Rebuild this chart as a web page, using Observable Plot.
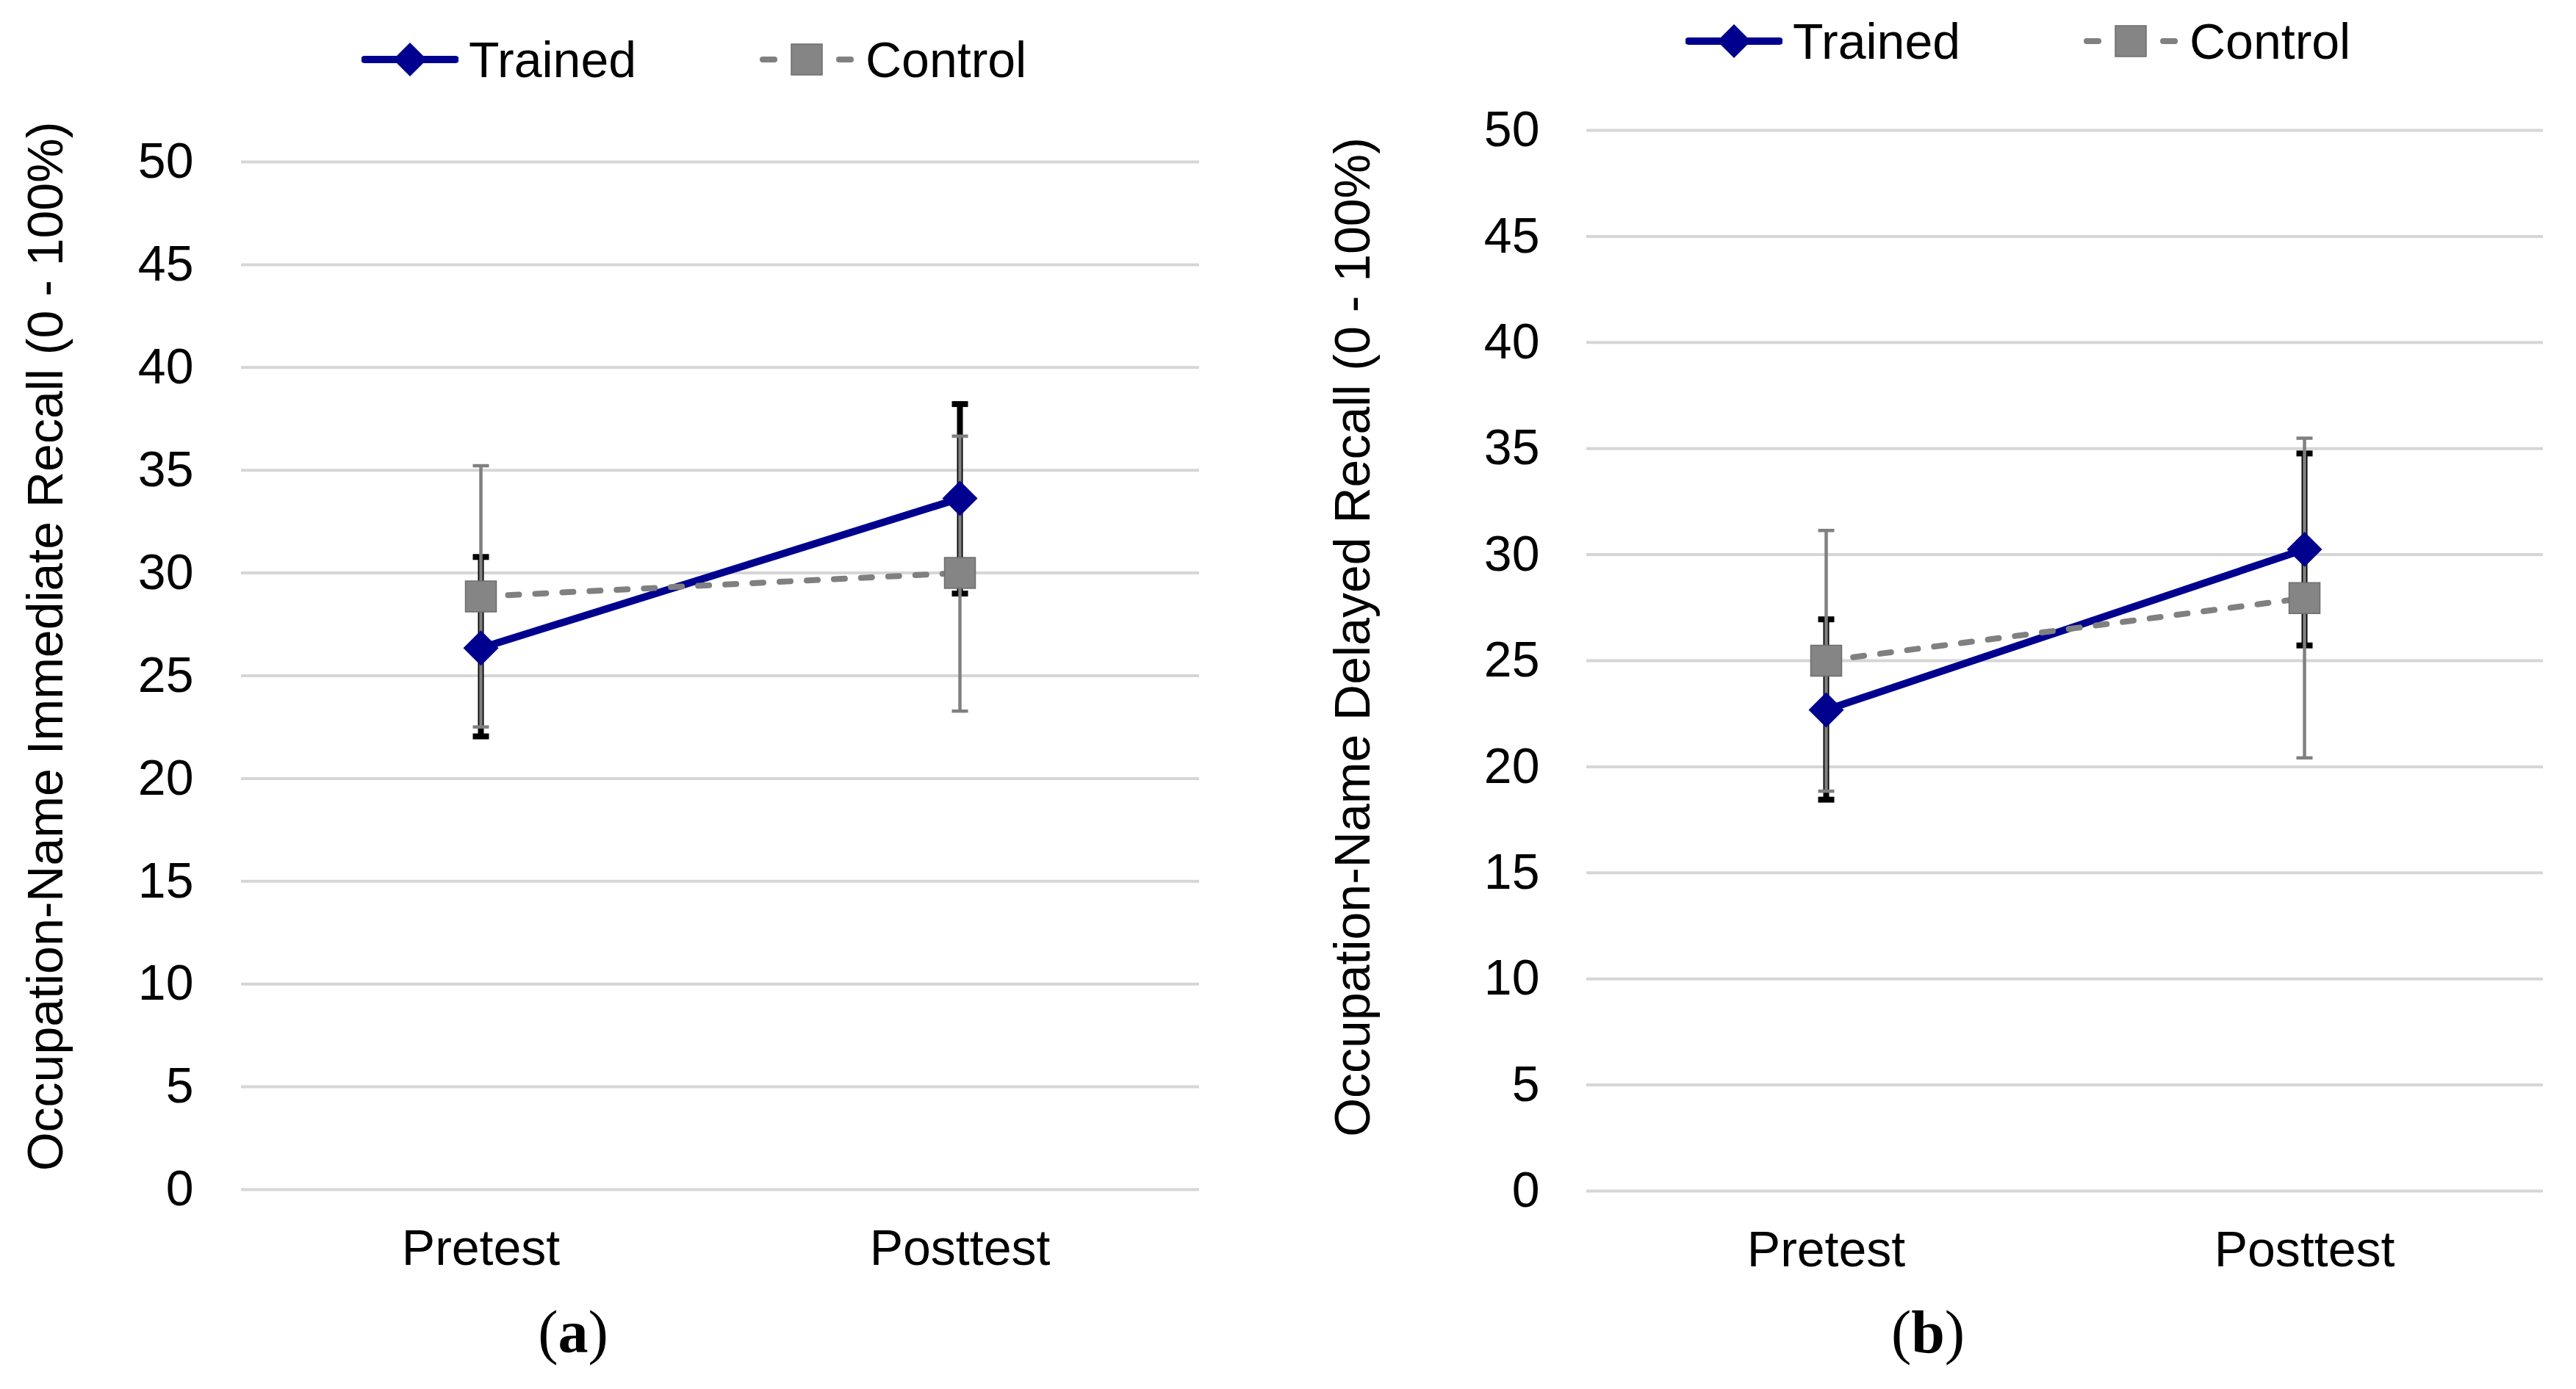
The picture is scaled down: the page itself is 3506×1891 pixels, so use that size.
<!DOCTYPE html>
<html><head><meta charset="utf-8">
<script src="https://cdn.jsdelivr.net/npm/d3@7"></script>
<script src="https://cdn.jsdelivr.net/npm/@observablehq/plot@0.6"></script>
<style>
html,body{margin:0;padding:0;background:#fff;}
#root{position:relative;width:3506px;height:1891px;background:#fff;font-family:"Liberation Sans",Arial,sans-serif;overflow:hidden;}
.panel{position:absolute;top:0;}
.leg{position:absolute;display:flex;align-items:center;height:68px;font-size:68px;line-height:68px;color:#000;white-space:nowrap;}
.leg svg{display:block;margin-right:14px;}
.cap{position:absolute;font-family:"Liberation Serif","Times New Roman",serif;font-size:82px;line-height:82px;color:#000;transform:translateX(-50%);white-space:nowrap;}
</style></head><body><div id="root"></div>
<script>
// ---- data ----
const phases = ["Pretest", "Posttest"];
const groups = ["Trained", "Control"];
const yTicks = [0, 5, 10, 15, 20, 25, 30, 35, 40, 45, 50];
// (a) immediate recall
const immTrainedMean = [26.35, 33.63];
const immTrainedLow = [22.05, 29.0];
const immTrainedHigh = [30.78, 38.22];
const immControlMean = [28.86, 30.0];
const immControlLow = [22.51, 23.28];
const immControlHigh = [35.22, 36.66];
// (b) delayed recall
const delTrainedMean = [22.68, 30.25];
const delTrainedLow = [18.45, 25.72];
const delTrainedHigh = [26.95, 34.77];
const delControlMean = [25.0, 27.95];
const delControlLow = [18.85, 20.42];
const delControlHigh = [31.14, 35.49];
const yTitles = ["Occupation-Name Immediate Recall (0 - 100%)", "Occupation-Name Delayed Recall (0 - 100%)"];
const panelLetters = ["a", "b"];

// ---- styling ----
const NAVY = "#00008f";
const GRAY = "#808080";
const FONT = '"Liberation Sans", Arial, sans-serif';

function rows(mean, lo, hi) {
  return phases.map((p, i) => ({phase: p, mean: mean[i], lo: lo[i], hi: hi[i]}));
}
const hline = {draw(ctx, size) { const w = Math.sqrt(size / Math.PI); ctx.moveTo(-w, 0); ctx.lineTo(w, 0); }};

function panel(cfg) {
  const T = rows(cfg.tMean, cfg.tLo, cfg.tHi);
  const C = rows(cfg.cMean, cfg.cLo, cfg.cHi);
  return Plot.plot({
    width: cfg.width, height: 1760,
    marginLeft: cfg.ml, marginRight: cfg.mr, marginTop: cfg.mt, marginBottom: cfg.mb,
    style: {fontFamily: FONT, fontSize: "68px", color: "#000", background: "transparent", overflow: "visible"},
    x: {type: "point", domain: phases, padding: 0.5, label: null},
    y: {domain: [0, 50], label: null},
    marks: [
      Plot.gridY(yTicks, {stroke: "#d6d6d6", strokeOpacity: 1, strokeWidth: 4}),
      Plot.axisY(yTicks, {tickSize: 0, tickPadding: cfg.tickPad, label: null, fontSize: 68, fontFamily: FONT}),
      Plot.axisX({tickSize: 0, tickPadding: 54, label: null, fontSize: 68, fontFamily: FONT}),
      Plot.text([cfg.title], {frameAnchor: "left", textAnchor: "middle", lineAnchor: "middle", rotate: -90, dx: cfg.tdx, dy: cfg.tdy, fontSize: 68, fontFamily: FONT, fill: "#000"}),
      // error bars: trained (black, under), control (gray, over)
      Plot.ruleX(T, {x: "phase", y1: "lo", y2: "hi", stroke: "#000", strokeWidth: 8}),
      Plot.dot(T, {x: "phase", y: "lo", symbol: hline, r: 11, stroke: "#000", strokeWidth: 8}),
      Plot.dot(T, {x: "phase", y: "hi", symbol: hline, r: 11, stroke: "#000", strokeWidth: 8}),
      Plot.ruleX(C, {x: "phase", y1: "lo", y2: "hi", stroke: GRAY, strokeWidth: 4.5}),
      Plot.dot(C, {x: "phase", y: "lo", symbol: hline, r: 11, stroke: GRAY, strokeWidth: 4.5}),
      Plot.dot(C, {x: "phase", y: "hi", symbol: hline, r: 11, stroke: GRAY, strokeWidth: 4.5}),
      // series lines
      Plot.line(T, {x: "phase", y: "mean", stroke: NAVY, strokeWidth: 10}),
      Plot.line(C, {x: "phase", y: "mean", stroke: GRAY, strokeWidth: 8, strokeDasharray: "15,22", strokeLinecap: "round"}),
      // markers
      Plot.dot(T, {x: "phase", y: "mean", symbol: "diamond2", r: 21.6, fill: NAVY}),
      Plot.dot(C, {x: "phase", y: "mean", symbol: "square", r: 23.7, fill: "#858585", stroke: "#6e6e6e", strokeWidth: 1.5})
    ]
  });
}

const root = document.getElementById("root");
const cfgs = [
  {left: 0, width: 1750, ml: 328, mr: 118, mt: 220, mb: 141, tickPad: 65, tdx: -265, tdy: -40,
   title: yTitles[0], tMean: immTrainedMean, tLo: immTrainedLow, tHi: immTrainedHigh,
   cMean: immControlMean, cLo: immControlLow, cHi: immControlHigh,
   legY: 81, legX: [492, 1032], capX: 780},
  {left: 1750, width: 1756, ml: 409, mr: 45, mt: 177, mb: 139, tickPad: 64, tdx: -317, tdy: -32,
   title: yTitles[1], tMean: delTrainedMean, tLo: delTrainedLow, tHi: delTrainedHigh,
   cMean: delControlMean, cLo: delControlLow, cHi: delControlHigh,
   legY: 56, legX: [2294, 2834], capX: 2624}
];

function swatch(kind) {
  if (kind === "Trained") {
    return `<svg width="132" height="50" viewBox="0 0 132 50">
      <line x1="4" x2="128" y1="25" y2="25" stroke="${NAVY}" stroke-width="10" stroke-linecap="round"/>
      <polygon points="66,2 89,25 66,48 43,25" fill="${NAVY}"/></svg>`;
  }
  return `<svg width="132" height="50" viewBox="0 0 132 50">
    <line x1="6" x2="22" y1="25" y2="25" stroke="${GRAY}" stroke-width="8" stroke-linecap="round"/>
    <line x1="110" x2="126" y1="25" y2="25" stroke="${GRAY}" stroke-width="8" stroke-linecap="round"/>
    <rect x="45" y="4" width="42" height="42" fill="#858585" stroke="#6e6e6e" stroke-width="1.5"/></svg>`;
}

cfgs.forEach((cfg, k) => {
  const wrap = document.createElement("div");
  wrap.className = "panel";
  wrap.style.left = cfg.left + "px";
  wrap.appendChild(panel(cfg));
  root.appendChild(wrap);
  groups.forEach((g, j) => {
    const d = document.createElement("div");
    d.className = "leg";
    d.style.left = cfg.legX[j] + "px";
    d.style.top = (cfg.legY - 34) + "px";
    d.innerHTML = swatch(g) + `<span>${g}</span>`;
    root.appendChild(d);
  });
  const c = document.createElement("div");
  c.className = "cap";
  c.style.left = cfg.capX + "px";
  c.style.top = "1773px";
  c.innerHTML = `(<b>${panelLetters[k]}</b>)`;
  root.appendChild(c);
});
</script></body></html>
